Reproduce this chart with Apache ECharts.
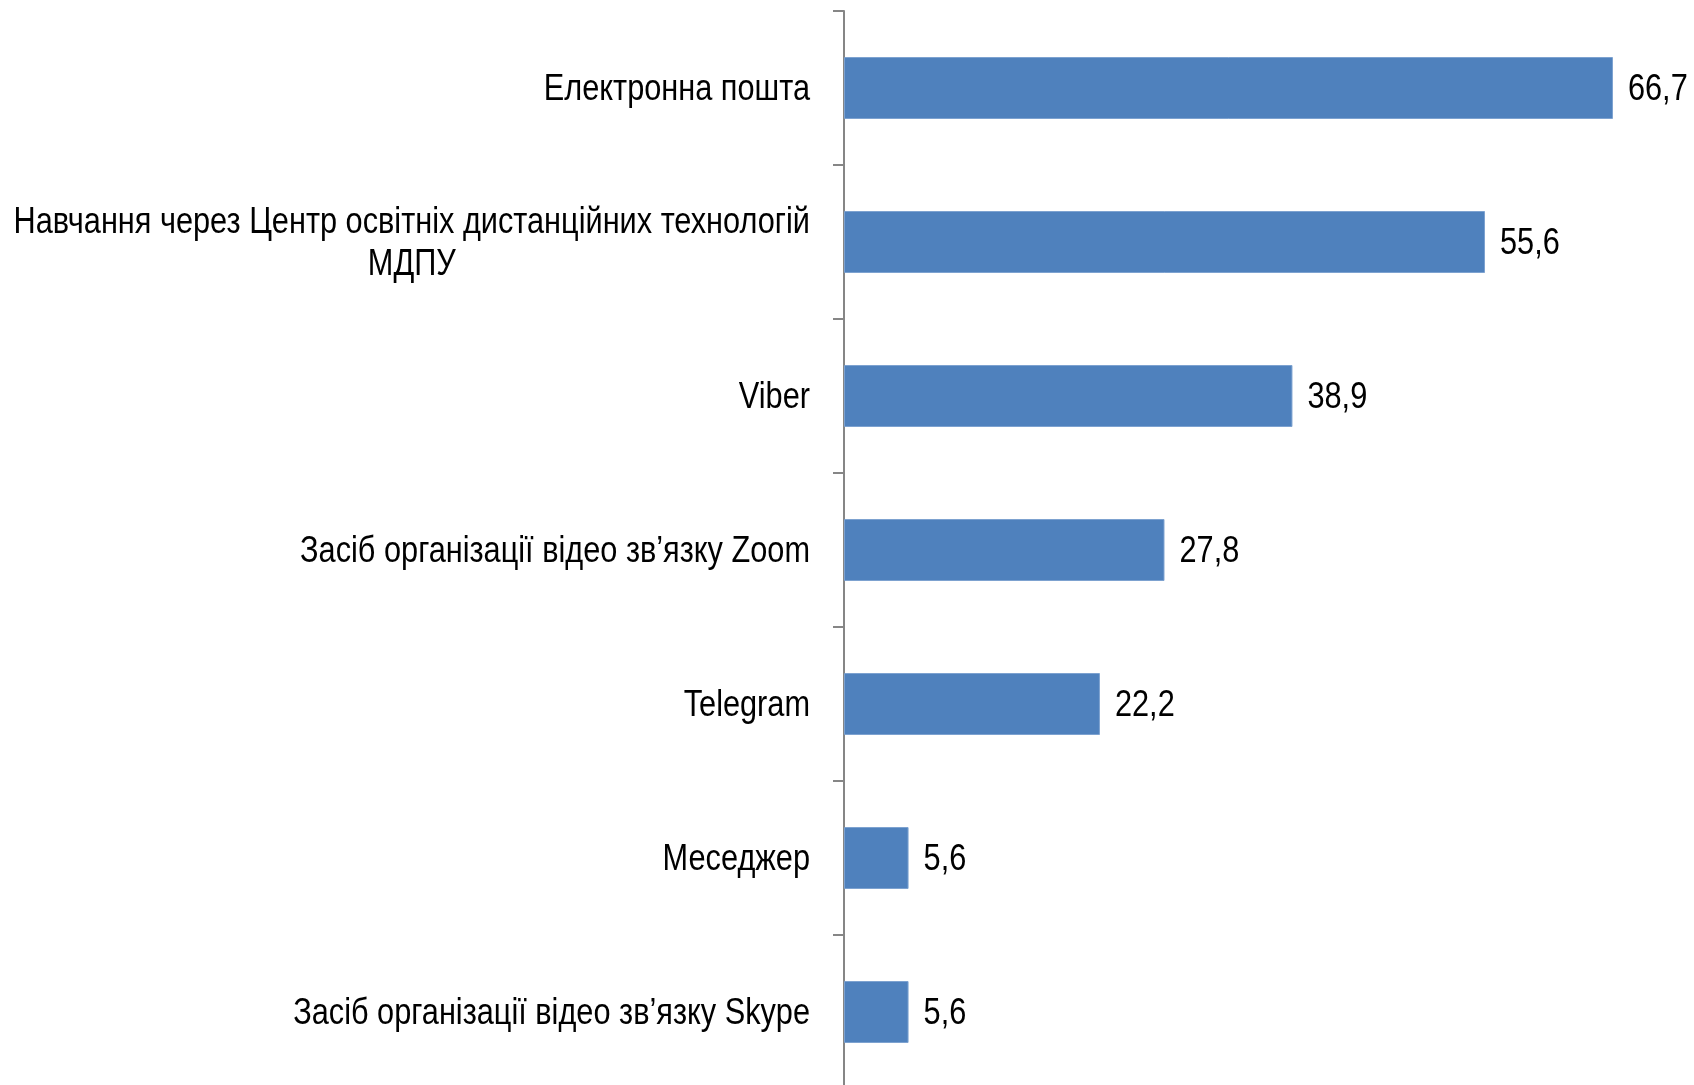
<!DOCTYPE html>
<html><head><meta charset="utf-8">
<script src="https://cdn.jsdelivr.net/npm/echarts@6/dist/echarts.min.js"></script>
<style>html,body{margin:0;padding:0;background:#fff}#c{width:1694px;height:1085px}</style>
</head><body><div id="c"></div>
<script>
const categories = [
  "Електронна пошта",
  "Навчання через Центр освітніх дистанційних технологій\nМДПУ",
  "Viber",
  "Засіб організації відео зв’язку Zoom",
  "Telegram",
  "Меседжер",
  "Засіб організації відео зв’язку Skype"
];
const values = [66.7, 55.6, 38.9, 27.8, 22.2, 5.6, 5.6];

const FONT_FAMILY = "'Liberation Sans', Arial, sans-serif";
const FONT_SIZE = 37;
const SCALE_X = 0.83;   // condensed look (Arial Narrow style)
const LINE_H = 42;
const Y_SHIFT = 2;
const FONT = FONT_SIZE + "px " + FONT_FAMILY;

const chart = echarts.init(document.getElementById('c'));
chart.setOption({
  animation: false,
  grid: {left: 844, right: 43, top: 11, bottom: -4, containLabel: false, outerBoundsMode: 'none'},
  xAxis: {
    type: 'value', min: 0, max: 70,
    axisLine: {show: false}, axisTick: {show: false},
    axisLabel: {show: false}, splitLine: {show: false}
  },
  yAxis: {
    type: 'category', inverse: true, data: categories,
    axisLine: {show: true, lineStyle: {color: '#868686', width: 2}},
    axisTick: {show: true, length: 11, lineStyle: {color: '#868686', width: 2}},
    axisLabel: {show: false}
  },
  series: [{
    type: 'bar', data: values, barWidth: 62,
    itemStyle: {color: '#4F81BD', borderColor: '#7DA2D0', borderWidth: 1},
    label: {show: false}
  }]
});

// condensed text labels, positioned through the chart's own axes
const ctx = document.createElement('canvas').getContext('2d');
ctx.font = FONT;
const axisX = chart.convertToPixel({xAxisIndex: 0}, 0);
const graphics = [];
categories.forEach((name, i) => {
  const cy = chart.convertToPixel({yAxisIndex: 0}, i) + Y_SHIFT;
  const lines = name.split('\n');
  const w = Math.max(...lines.map(l => ctx.measureText(l).width)) * SCALE_X;
  const cx = axisX - 34 - w / 2;
  graphics.push({
    type: 'text', x: cx, y: cy, scaleX: SCALE_X, silent: true,
    style: {text: name, font: FONT, fill: '#000', align: 'center',
            verticalAlign: 'middle', lineHeight: LINE_H}
  });
  const p = chart.convertToPixel({seriesIndex: 0}, [values[i], i]);
  graphics.push({
    type: 'text', x: p[0] + 15, y: p[1] + Y_SHIFT, scaleX: SCALE_X, silent: true,
    style: {text: String(values[i]).replace('.', ','), font: FONT, fill: '#000',
            align: 'left', verticalAlign: 'middle'}
  });
});
chart.setOption({graphic: graphics});
</script></body></html>
